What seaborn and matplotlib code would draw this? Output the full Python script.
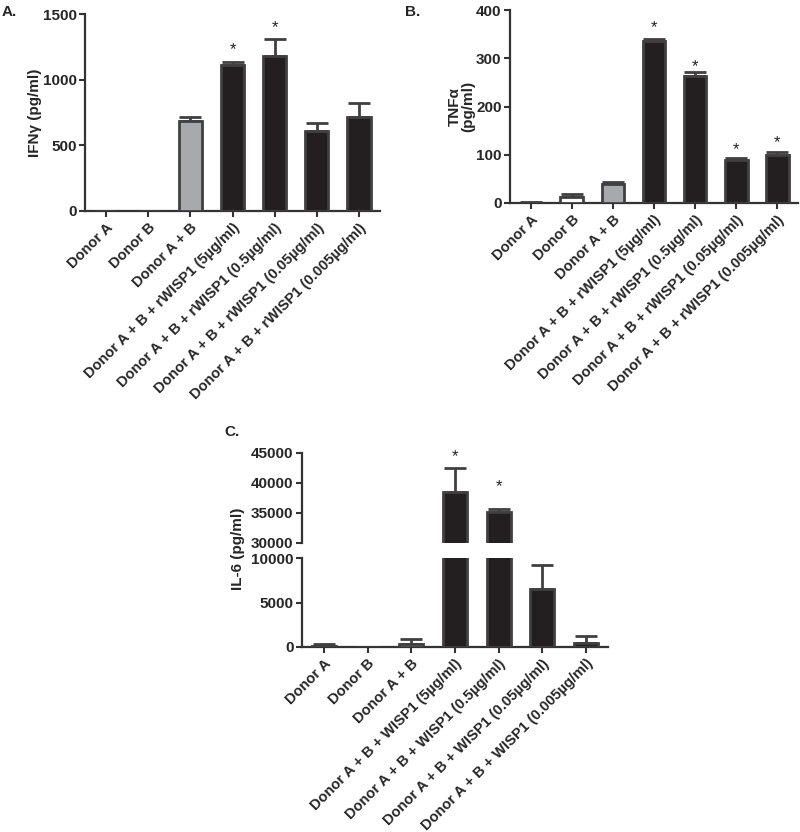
import numpy as np
import pandas as pd
import matplotlib
matplotlib.use("Agg")
import matplotlib.pyplot as plt
import seaborn as sns

# ---------------- data ----------------
groups_r = ["Donor A", "Donor B", "Donor A + B",
            "Donor A + B + rWISP1 (5µg/ml)",
            "Donor A + B + rWISP1 (0.5µg/ml)",
            "Donor A + B + rWISP1 (0.05µg/ml)",
            "Donor A + B + rWISP1 (0.005µg/ml)"]
groups_w = ["Donor A", "Donor B", "Donor A + B",
            "Donor A + B + WISP1 (5µg/ml)",
            "Donor A + B + WISP1 (0.5µg/ml)",
            "Donor A + B + WISP1 (0.05µg/ml)",
            "Donor A + B + WISP1 (0.005µg/ml)"]

ifng_mean = [0, 0, 685, 1112, 1180, 609, 716]
ifng_err = [0, 0, 31, 22, 130, 61, 106]
ifng_star = [None, None, None, 1264, 1431, None, None]

tnfa_mean = [1, 12, 39, 336, 263, 89, 99]
tnfa_err = [1, 6, 4, 3, 9, 4, 7]
tnfa_star = [None, None, None, 373, 292, 120, 135]

il6_mean = [120, 0, 300, 38500, 35200, 6480, 400]
il6_err = [180, 0, 640, 4000, 500, 2700, 800]
il6_star = [None, None, None, 45170, 40170, None, None]

fill_colors = ["#ffffff", "#ffffff", "#a7a9ac", "#231f20", "#231f20", "#231f20", "#231f20"]

# ---------------- style ----------------
sns.set_style("ticks")
plt.rcParams['font.family'] = ['Liberation Sans', 'DejaVu Sans']
plt.rcParams['font.weight'] = 'bold'
plt.rcParams['axes.labelweight'] = 'bold'
FS = 11
XFS = 10.5
EDGE = "#404040"
SPINE = "#333333"

fig = plt.figure(figsize=(8, 8.32), dpi=100)

def style_axis(ax, bottom=True):
    for s in ["top", "right"]:
        ax.spines[s].set_visible(False)
    ax.spines["left"].set_color(SPINE)
    ax.spines["left"].set_linewidth(1.6)
    ax.spines["bottom"].set_color(SPINE)
    ax.spines["bottom"].set_linewidth(1.6)
    ax.tick_params(axis="y", length=4, width=1.5, color=SPINE, labelsize=FS, pad=2)
    ax.tick_params(axis="x", length=4, width=1.5, color=SPINE, labelsize=XFS, pad=3)
    if not bottom:
        ax.spines["bottom"].set_visible(False)
        ax.tick_params(axis="x", length=0, labelbottom=False)
    for lab in ax.get_yticklabels():
        lab.set_fontweight("bold")

def draw_bars(ax, groups, mean, err, stars=None):
    df = pd.DataFrame({"group": groups, "value": mean})
    sns.barplot(data=df, x="group", y="value", hue="group", palette=fill_colors,
                legend=False, ax=ax, width=0.55, edgecolor=EDGE, linewidth=2,
                saturation=1, zorder=3)
    xs = np.arange(len(groups))
    m = np.array(mean, dtype=float)
    e = np.array(err, dtype=float)
    sel = e > 0
    ax.errorbar(xs[sel], m[sel], yerr=[np.zeros(sel.sum()), e[sel]], fmt="none",
                ecolor=EDGE, elinewidth=2, capsize=8, capthick=2, zorder=2)
    if stars is not None:
        for i, s in enumerate(stars):
            if s is not None:
                ax.annotate("*", (i, s), xytext=(0, -6.5), textcoords="offset points",
                            ha="center", va="baseline", fontsize=12,
                            fontweight="normal", color="#222222",
                            annotation_clip=False)
    ax.set_xlim(-0.5, len(groups) - 0.5)
    ax.set_xlabel("")
    ax.set_ylabel("")

def xlabels(ax, groups):
    ax.set_xticks(range(len(groups)))
    ax.set_xticklabels(groups, rotation=45, ha="right", va="top",
                       rotation_mode="anchor", fontsize=XFS, fontweight="bold")

# ---------------- Panel A ----------------
axA = fig.add_axes([85/800, 1-211/832, 295/800, 197/832])
draw_bars(axA, groups_r, ifng_mean, ifng_err, ifng_star)
axA.set_ylim(0, 1500)
axA.set_yticks([0, 500, 1000, 1500])
style_axis(axA)
xlabels(axA, groups_r)
axA.set_ylabel("IFNγ (pg/ml)", fontsize=FS, fontweight="bold")
axA.yaxis.set_label_coords(-0.145, 0.5)
fig.text(2/800, 1-12/832, "A.", fontsize=FS, fontweight="bold", va="center", ha="left")

# ---------------- Panel B ----------------
axB = fig.add_axes([510/800, 1-203/832, 288/800, 193/832])
draw_bars(axB, groups_r, tnfa_mean, tnfa_err, tnfa_star)
axB.set_ylim(0, 400)
axB.set_yticks([0, 100, 200, 300, 400])
style_axis(axB)
xlabels(axB, groups_r)
axB.set_ylabel("TNFα\n(pg/ml)", fontsize=FS, fontweight="bold", linespacing=1.0)
axB.yaxis.set_label_coords(-0.12, 0.5)
fig.text(405/800, 1-12/832, "B.", fontsize=FS, fontweight="bold", va="center", ha="left")

# ---------------- Panel C (broken axis) ----------------
axC_top = fig.add_axes([302/800, 1-543/832, 306/800, 90/832])
axC_bot = fig.add_axes([302/800, 1-647/832, 306/800, 89/832])
draw_bars(axC_top, groups_w, il6_mean, il6_err, il6_star)
draw_bars(axC_bot, groups_w, il6_mean, il6_err, None)
axC_top.set_ylim(30000, 45000)
axC_top.set_yticks([30000, 35000, 40000, 45000])
axC_bot.set_ylim(0, 10000)
axC_bot.set_yticks([0, 5000, 10000])
style_axis(axC_top, bottom=False)
style_axis(axC_bot)
xlabels(axC_bot, groups_w)
fig.text(238/800, 1-549/832, "IL-6 (pg/ml)", rotation=90, fontsize=FS,
         fontweight="bold", ha="center", va="center")
fig.text(224/800, 1-432/832, "C.", fontsize=FS, fontweight="bold", va="center", ha="left")

fig.savefig("out.png", dpi=100, facecolor="white")
